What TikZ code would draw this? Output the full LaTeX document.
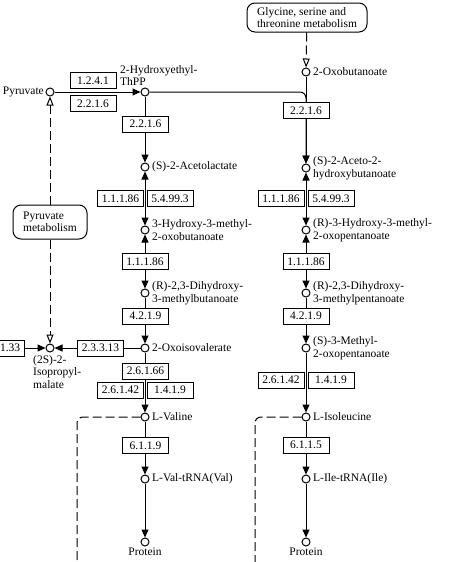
\documentclass[tikz,border=0pt]{standalone}
\usepackage{fontspec}
\setmainfont{Liberation Serif}
\usetikzlibrary{arrows.meta}
\begin{document}
\begin{tikzpicture}[x=1pt,y=-1pt,
  txt/.style={font=\fontsize{11.5}{12.5}\selectfont},
  cpd/.style={circle,draw,fill=white,minimum size=8pt,inner sep=0pt,line width=1pt},
  enz/.style={txt,draw,fill=white,minimum width=46pt,minimum height=16pt,inner sep=0pt,line width=1pt},
  mapbox/.style={txt,draw,fill=white,rounded corners=8pt,align=left,inner sep=0pt,line width=1pt},
  lbl/.style={txt,inner sep=0pt,align=left},
  rx/.style={line width=1pt},
  fwd/.style={rx,-{Triangle[length=8pt,width=7pt]}},
  rev/.style={rx,{Triangle[length=8pt,width=7pt]}-{Triangle[length=8pt,width=7pt]}},
  link/.style={line width=1pt,dash pattern=on 9pt off 4pt},
  hollow/.style={link,-{Triangle[open,length=9pt,width=7pt,fill=white]}}
]
\useasboundingbox (0,0) rectangle (453,562);
\clip (0,0) rectangle (453,562);
% map boxes
\node[mapbox,minimum width=120pt,minimum height=29pt] (gly) at (307,17.5) {Glycine, serine and\\threonine metabolism};
\node[mapbox,minimum width=74pt,minimum height=34pt] (pm) at (50,222) {Pyruvate\\metabolism};
% compounds
\node[cpd] (pyr) at (50,92) {};
\node[cpd] (heth) at (145,92) {};
\node[cpd] (oxb) at (306,72) {};
\node[cpd] (acl) at (145,167) {};
\node[cpd] (ahb) at (306,168) {};
\node[cpd] (hmob) at (145,230) {};
\node[cpd] (hmop) at (306,230) {};
\node[cpd] (dhmb) at (145,293) {};
\node[cpd] (dhmp) at (306,293) {};
\node[cpd] (oiv) at (145,348) {};
\node[cpd] (mop) at (306,348) {};
\node[cpd] (ipm) at (50,348) {};
\node[cpd] (val) at (145,417) {};
\node[cpd] (ile) at (306,417) {};
\node[cpd] (valt) at (145,479) {};
\node[cpd] (ilet) at (306,479) {};
\node[cpd] (prot1) at (145,542) {};
\node[cpd] (prot2) at (306,542) {};
% labels
\node[lbl,anchor=east] (lpyr) at (44,92) {Pyruvate};
\node[lbl,anchor=south west] (lheth) at (120,86) {2-Hydroxyethyl-\\ThPP};
\node[lbl,anchor=west] (loxb) at (313,72) {2-Oxobutanoate};
\node[lbl,anchor=west] (lacl) at (152,167) {(S)-2-Acetolactate};
\node[lbl,anchor=west] (lahb) at (313,168) {(S)-2-Aceto-2-\\hydroxybutanoate};
\node[lbl,anchor=west] (lhmob) at (152,230) {3-Hydroxy-3-methyl-\\2-oxobutanoate};
\node[lbl,anchor=west] (lhmop) at (313,230) {(R)-3-Hydroxy-3-methyl-\\2-oxopentanoate};
\node[lbl,anchor=west] (ldhmb) at (152,293) {(R)-2,3-Dihydroxy-\\3-methylbutanoate};
\node[lbl,anchor=west] (ldhmp) at (313,293) {(R)-2,3-Dihydroxy-\\3-methylpentanoate};
\node[lbl,anchor=west] (loiv) at (152,348) {2-Oxoisovalerate};
\node[lbl,anchor=west] (lmop) at (313,348) {(S)-3-Methyl-\\2-oxopentanoate};
\node[lbl,anchor=north west] (lipm) at (33,355) {(2S)-2-\\Isopropyl-\\malate};
\node[lbl,anchor=west] (lval) at (152,417) {L-Valine};
\node[lbl,anchor=west] (lile) at (313,417) {L-Isoleucine};
\node[lbl,anchor=west] (lvalt) at (152,479) {L-Val-tRNA(Val)};
\node[lbl,anchor=west] (lilet) at (313,479) {L-Ile-tRNA(Ile)};
\node[lbl,anchor=north] (lprot1) at (145,548) {Protein};
\node[lbl,anchor=north] (lprot2) at (306,548) {Protein};
% free ends
\coordinate (valend) at (77,562);
\coordinate (ileend) at (255,562);
% map links
\draw[hollow] (gly) -- (oxb);
\draw[hollow] (pm) -- (pyr);
\draw[hollow] (pm) -- (ipm);
\draw[link,rounded corners=6pt] (val.west) -| (valend);
\draw[link,rounded corners=6pt] (ile.west) -| (ileend);
% reactions
\draw[fwd] (pyr) -- (heth);
\draw[fwd,rounded corners=6pt] (heth.east) -| (ahb);
\draw[fwd] (oxb) -- (ahb);
\draw[fwd] (heth) -- (acl);
\draw[rev] (acl) -- (hmob);
\draw[rev] (hmob) -- (dhmb);
\draw[fwd] (dhmb) -- (oiv);
\draw[rev] (ahb) -- (hmop);
\draw[rev] (hmop) -- (dhmp);
\draw[fwd] (dhmp) -- (mop);
\draw[fwd] (oiv) -- (ipm);
\draw[fwd] (oiv) -- (val);
\draw[fwd] (mop) -- (ile);
\draw[fwd] (val) -- (valt);
\draw[fwd] (valt) -- (prot1);
\draw[fwd] (ile) -- (ilet);
\draw[fwd] (ilet) -- (prot2);
% enzymes
\node[enz] (e1241) at (93,80.5) {1.2.4.1};
\node[enz] (e2216a) at (93,103.5) {2.2.1.6};
\node[enz] (e2216b) at (145.5,124) {2.2.1.6};
\node[enz] (e2216c) at (306,110.5) {2.2.1.6};
\node[enz] (e11186a) at (120.5,198.5) {1.1.1.86};
\node[enz] (e54993a) at (170,198.5) {5.4.99.3};
\node[enz] (e11186c) at (281,198.5) {1.1.1.86};
\node[enz] (e54993c) at (331,198.5) {5.4.99.3};
\node[enz] (e11186b) at (145,261.5) {1.1.1.86};
\node[enz] (e11186d) at (306,261.5) {1.1.1.86};
\node[enz] (e4219a) at (145.5,316) {4.2.1.9};
\node[enz] (e4219b) at (306,316) {4.2.1.9};
\node[enz] (e23313) at (100.5,348) {2.3.3.13};
\node[enz] (e42133) at (1.5,348) {4.2.1.33};
\draw[fwd] (e42133) -- (ipm);
\node[enz] (e26166) at (145.5,371) {2.6.1.66};
\node[enz] (e26142a) at (120.5,390) {2.6.1.42};
\node[enz] (e1419a) at (170,390) {1.4.1.9};
\node[enz] (e26142b) at (281,380) {2.6.1.42};
\node[enz] (e1419b) at (331,380) {1.4.1.9};
\node[enz] (e6119) at (145.5,445.5) {6.1.1.9};
\node[enz] (e6115) at (306,445) {6.1.1.5};
\end{tikzpicture}
\end{document}
